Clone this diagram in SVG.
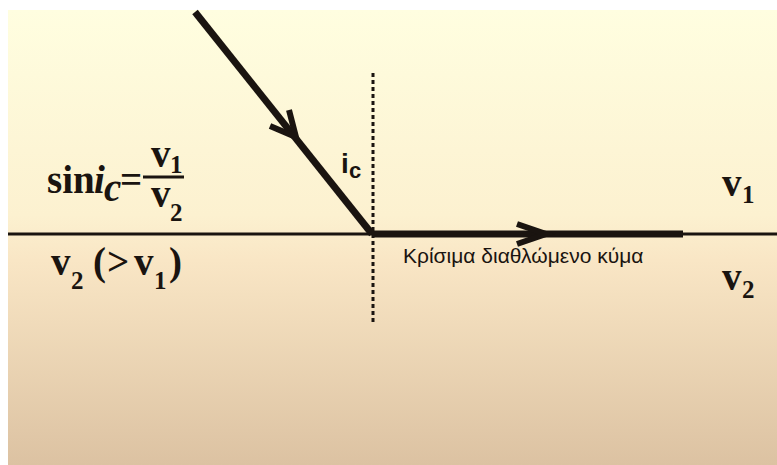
<svg xmlns="http://www.w3.org/2000/svg" width="777" height="465" viewBox="0 0 777 465">
<defs>
<linearGradient id="bg" x1="0" y1="0" x2="0" y2="1">
<stop offset="0" stop-color="#fffee0"/>
<stop offset="0.45" stop-color="#fcf1d0"/>
<stop offset="0.55" stop-color="#f9e6c5"/>
<stop offset="1" stop-color="#dcc2a2"/>
</linearGradient>
<style>
.ray{stroke:#1a1410;stroke-width:7;fill:none;stroke-linejoin:miter}
.chev{stroke:#1a1410;stroke-width:6;fill:none;stroke-linejoin:miter;stroke-linecap:butt}
.t{font-family:"Liberation Serif","Times New Roman",serif;font-weight:bold;fill:#1a1410;font-size:39px}
.sub{font-size:25px}
.s{font-family:"Liberation Sans",Arial,sans-serif;fill:#1a1410}
</style>
</defs>
<rect x="0" y="0" width="777" height="465" fill="#ffffff"/>
<rect x="8" y="10" width="769" height="455" fill="url(#bg)"/>
<g id="connectors">
<line x1="8" y1="234" x2="777" y2="234" stroke="#1a1410" stroke-width="3"/>
<line x1="373" y1="73" x2="373" y2="325" stroke="#1a1410" stroke-width="3" stroke-dasharray="4 3"/>
<line class="ray" x1="195" y1="12" x2="372" y2="234"/>
<polyline class="chev" points="270,126 296,137 289,110"/>
<line class="ray" x1="372" y1="234" x2="683" y2="234"/>
<polyline class="chev" points="517,224 546,234 517,244"/>
</g>
<g id="formula">
<text class="t" x="47" y="193">sin</text>
<text class="t" x="94" y="193" font-style="italic">i</text>
<text class="t" x="104" y="201" font-style="italic" font-size="24">c</text>
<text class="t" x="120" y="193">=</text>
<line x1="143" y1="177" x2="184" y2="177" stroke="#1a1410" stroke-width="3"/>
<text class="t" x="151" y="167">v</text>
<text class="t sub" x="170" y="173">1</text>
<text class="t" x="151" y="207">v</text>
<text class="t sub" x="170" y="221">2</text>
</g>
<g id="medium2-label">
<text class="t" x="51" y="275">v</text>
<text class="t sub" x="71" y="289">2</text>
<text class="t" x="93" y="275">(</text>
<text class="t" x="107" y="275">&gt;</text>
<text class="t" x="134" y="275">v</text>
<text class="t sub" x="154" y="289">1</text>
<text class="t" x="169" y="275">)</text>
</g>
<g id="angle-label">
<text class="s" x="341" y="173" font-size="28" font-weight="bold">i</text>
<text class="s" x="349" y="178" font-size="22" font-weight="bold">c</text>
</g>
<g id="wave-label">
<text class="s" x="403" y="263" font-size="21">Κρίσιμα διαθλώμενο κύμα</text>
</g>
<g id="v1-label">
<text class="t" x="722" y="196">v</text>
<text class="t sub" x="742" y="203">1</text>
</g>
<g id="v2-label">
<text class="t" x="722" y="290">v</text>
<text class="t sub" x="742" y="298">2</text>
</g>
</svg>
